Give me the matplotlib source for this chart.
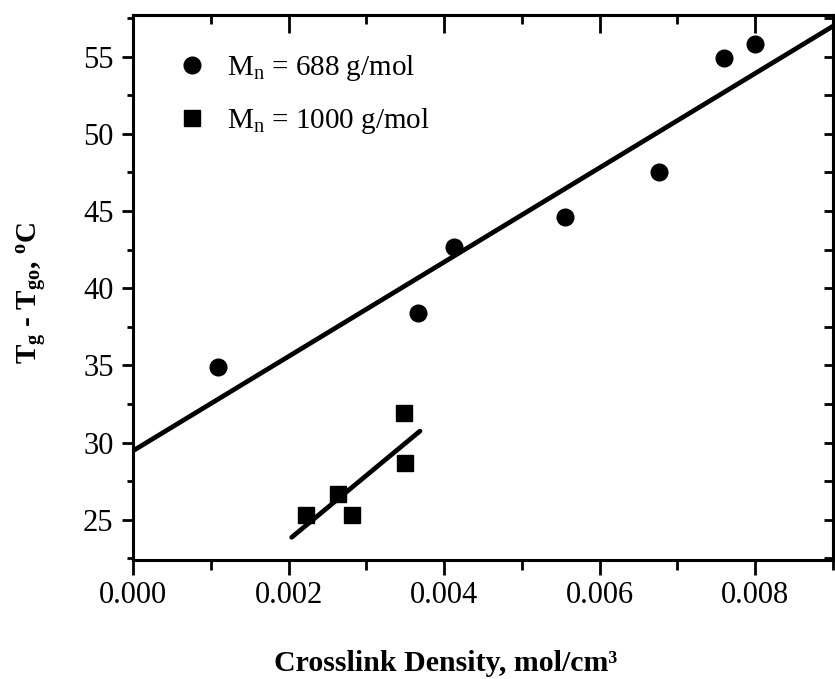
import numpy as np
import matplotlib
matplotlib.use("Agg")
from matplotlib import pyplot as plt
from matplotlib.ticker import MultipleLocator

# Mn = 688 g/mol
x_688 = [0.00109, 0.00367, 0.00413, 0.00556, 0.00676, 0.00760, 0.00800]
y_688 = [34.9, 38.4, 42.7, 44.6, 47.5, 54.9, 55.8]
# Mn = 1000 g/mol
x_1000 = [0.00222, 0.00263, 0.00282, 0.00348, 0.00350]
y_1000 = [25.3, 26.7, 25.3, 31.9, 28.7]

# x-range over which each linear fit is drawn
fit_span_688 = [0.0, 0.009]
fit_span_1000 = [0.00204, 0.00369]

labels = [r'M$_\mathregular{n}$ = 688 g/mol', r'M$_\mathregular{n}$ = 1000 g/mol']

plt.rcParams['font.family'] = ['Liberation Serif', 'DejaVu Serif']
plt.rcParams['mathtext.fontset'] = 'custom'
plt.rcParams['mathtext.rm'] = 'Liberation Serif'
plt.rcParams['mathtext.bf'] = 'Liberation Serif:bold'
plt.rcParams['mathtext.it'] = 'Liberation Serif:italic'

fig = plt.figure(figsize=(8.35, 6.79), dpi=100)
ax = fig.add_axes([0.1593, 0.1753, 0.8383, 0.8026])

# linear fits
for xs, ys, span in [(x_688, y_688, fit_span_688), (x_1000, y_1000, fit_span_1000)]:
    k, b = np.polyfit(xs, ys, 1)
    xx = np.array(span)
    ax.plot(xx, k * xx + b, color='black', lw=3.4, solid_capstyle='round', zorder=2)

h1, = ax.plot(x_688, y_688, 'o', color='black', ms=12, ls='None', zorder=3, clip_on=False)
h2, = ax.plot(x_1000, y_1000, 's', color='black', ms=11, ls='None', zorder=3)

ax.set_xlim(0, 0.009)
ax.set_ylim(22.4, 57.7)

ax.xaxis.set_major_locator(MultipleLocator(0.002))
ax.xaxis.set_minor_locator(MultipleLocator(0.001))
ax.yaxis.set_minor_locator(MultipleLocator(2.5))
ax.xaxis.set_major_formatter(plt.FuncFormatter(lambda v, p: f"{v:.3f}"))
ax.set_yticks([25, 30, 35, 40, 45, 50, 55])

for s in ax.spines.values():
    s.set_linewidth(2.2)

ax.tick_params(axis='x', which='major', direction='out', length=11, width=2, pad=4, labelsize=22)
ax.tick_params(axis='x', which='minor', direction='out', length=7, width=2)
ax.tick_params(axis='y', which='major', direction='out', length=8, width=2, pad=6, labelsize=22)
ax.tick_params(axis='y', which='minor', direction='out', length=4, width=2)

# inward ticks on top and right
top = ax.secondary_xaxis('top')
top.xaxis.set_major_locator(MultipleLocator(0.002))
top.xaxis.set_minor_locator(MultipleLocator(0.001))
top.tick_params(which='major', direction='in', length=13, width=2, labeltop=False)
top.tick_params(which='minor', direction='in', length=6.5, width=2)
top.spines['top'].set_linewidth(2.2)

right = ax.secondary_yaxis('right')
right.yaxis.set_major_locator(MultipleLocator(5))
right.yaxis.set_minor_locator(MultipleLocator(2.5))
right.tick_params(which='major', direction='in', length=6.5, width=2, labelright=False)
right.tick_params(which='minor', direction='in', length=6.5, width=2)
right.spines['right'].set_linewidth(2.2)

ax.set_xlabel('Crosslink Density, mol/cm³', fontsize=21.5, fontweight='bold')
ax.xaxis.set_label_coords(0.447, -0.165)
ax.set_ylabel(r'T$_\mathbf{g}$ - T$_\mathbf{go}$, $^\mathbf{o}$C', fontsize=21, fontweight='bold')
ax.yaxis.set_label_coords(-0.12, 0.49)

ax.legend([h1, h2], labels, loc='upper left', bbox_to_anchor=(0.043, 0.952), frameon=False,
          fontsize=21, handletextpad=0.6, labelspacing=0.79, handlelength=1.2, borderaxespad=0)

fig.savefig('out.png', dpi=100)
